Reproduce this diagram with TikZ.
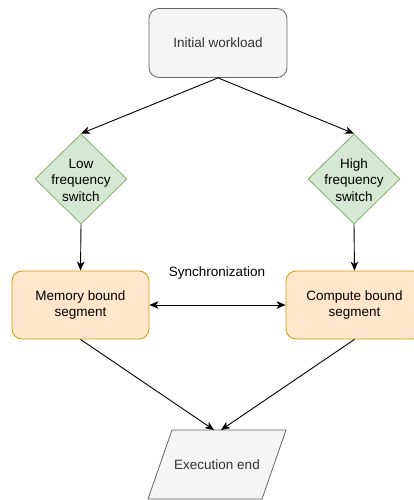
\documentclass[tikz,border=0pt]{standalone}
\usepackage{fontspec}
\setmainfont{Liberation Sans}
\usetikzlibrary{shapes.geometric,arrows.meta}
\definecolor{grayfill}{HTML}{F5F5F5}
\definecolor{grayline}{HTML}{666666}
\definecolor{graytext}{HTML}{333333}
\definecolor{greenfill}{HTML}{D5E8D4}
\definecolor{greenline}{HTML}{82B366}
\definecolor{orangefill}{HTML}{FFE6CC}
\definecolor{orangeline}{HTML}{D79B00}
\newcommand{\dfont}{\fontsize{13.5}{16.5}\selectfont}
\begin{document}
\begin{tikzpicture}[x=1pt,y=-1pt,
  every node/.style={font=\dfont},
  graybox/.style={draw=grayline, fill=grayfill, rounded corners=10pt, minimum width=138pt, minimum height=69pt, text=graytext, line width=0.8pt, align=center},
  diam/.style={diamond, draw=greenline, fill=greenfill, minimum width=92pt, minimum height=90pt, inner sep=0pt, line width=0.8pt},
  orangebox/.style={draw=orangeline, fill=orangefill, rounded corners=10pt, minimum width=137pt, minimum height=68pt, line width=0.8pt, align=center},
  parashape/.style={draw=grayline, fill=grayfill, line width=0.8pt},
  conn/.style={line width=0.9pt, -{Stealth[length=9pt,width=7.5pt,inset=2.5pt]}},
  biconn/.style={line width=0.9pt, {Stealth[length=9pt,width=7.5pt,inset=2.5pt]}-{Stealth[length=9pt,width=7.5pt,inset=2.5pt]}}
]
\useasboundingbox (0,0) rectangle (414,500);
\node[graybox] (init) at (218,43) {Initial workload};
\node[diam] (low) at (81,179) {};
\node[align=center] (lowt) at (81,180) {Low\\frequency\\switch};
\node[diam] (high) at (354,179) {};
\node[align=center] (hight) at (354,180) {High\\frequency\\switch};
\node[orangebox] (mem) at (80.5,305) {Memory bound\\segment};
\node[orangebox] (comp) at (354.5,305) {Compute bound\\segment};
\draw[parashape] (172,430) -- (286,430) -- (262,499) -- (148,499) -- cycle;
\node[text=graytext] (end) at (217,464.5) {Execution end};
\node (sync) at (217,273) {Synchronization};
\coordinate (endl) at (214,430);
\coordinate (endr) at (221,430);
\draw[conn] (init.south) -- (low.north);
\draw[conn] (init.south) -- (high.north);
\draw[conn] (low.south) -- (mem.north);
\draw[conn] (high.south) -- (comp.north);
\draw[biconn] (mem.east) -- (comp.west);
\draw[conn] (mem.south) -- (endl);
\draw[conn] (comp.south) -- (endr);
\end{tikzpicture}
\end{document}
